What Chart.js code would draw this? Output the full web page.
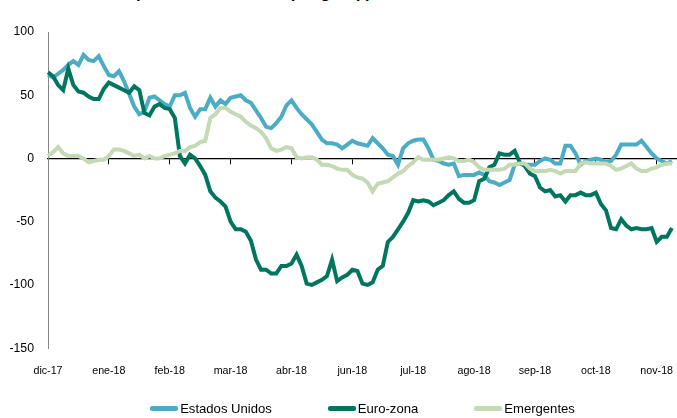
<!DOCTYPE html>
<html>
<head>
<meta charset="utf-8">
<title>Sorpresas económicas</title>
<script src="https://cdn.jsdelivr.net/npm/chart.js@4.4.1/dist/chart.umd.min.js"></script>
<style>
  html, body { margin: 0; padding: 0; background: #fff; overflow: hidden; }
  #wrap { position: relative; width: 677px; height: 418px; overflow: hidden; }
  #title {
    position: absolute; left: 30px; top: -16px; margin: 0;
    font: italic bold 16px 'Liberation Sans', Arial, sans-serif; color: #000;
    white-space: nowrap;
  }
  canvas { position: absolute; left: 0; top: 0; }
  #legend {
    position: absolute; left: 48px; width: 629px; top: 398px; height: 20px;
    display: flex; justify-content: center; align-items: center; gap: 56px;
    color: #000; white-space: nowrap;
  }
  #legend .item { display: flex; align-items: center; }
  #legend .sw { width: 28px; height: 5px; border-radius: 2px; margin-right: 2px; }
</style>
</head>
<body>
<div id="wrap">
  <p id="title">Índices de sorpresas económicas (Citigroup)</p>
  <canvas id="chart" width="677" height="418"></canvas>
  <div id="legend"></div>
</div>
<script>
  // month labels, one every 12 samples
  var monthLabels = ['dic-17', 'ene-18', 'feb-18', 'mar-18', 'abr-18', 'jun-18',
                     'jul-18', 'ago-18', 'sep-18', 'oct-18', 'nov-18'];
  var samplesPerMonth = 12;
  var nCategories = 125;

  var yTicks = [100, 50, 0, -50, -100, -150];

  var estadosUnidos = [
    66, 64, 67, 70, 74, 77, 74, 82, 78, 77, 81, 73, 66, 65, 69, 61, 51, 41, 35, 37,
    48, 49, 46, 43, 41, 50, 50, 52, 40, 33, 39, 39, 48, 41, 46, 43, 48, 49, 50, 46,
    44, 38, 32, 25, 24, 28, 33, 42, 46, 40, 35, 31, 27, 21, 15, 12, 12, 11, 8, 11,
    14, 12, 11, 10, 16, 12, 8, 3, 2, -5, 8, 12, 14, 15, 15, 8, -1, -2, -4, -5,
    -4, -14, -13, -13, -13, -11, -13, -18, -19, -21, -19, -17, -5, -4, -5, -5, -5, -2, 0, -1,
    -4, -4, 10, 10, 4, -5, -2, -1, 0, -1, -3, -2, 3, 11, 11, 11, 11, 14, 9, 4,
    0, -2, -4, -2
  ];

  var euroZona = [
    68, 65, 58, 54, 71, 58, 53, 52, 49, 47, 47, 55, 60, 58, 56, 54, 52, 57, 54, 36,
    34, 41, 43, 40, 39, 32, 2, -4, 3, 0, -6, -13, -26, -31, -34, -38, -50, -56, -56, -58,
    -65, -80, -88, -88, -91, -91, -85, -85, -83, -76, -85, -99, -100, -98, -96, -93, -80, -97, -94, -92,
    -88, -89, -99, -100, -98, -88, -85, -66, -62, -56, -50, -43, -33, -34, -33, -34, -37, -35, -33, -29,
    -26, -32, -35, -35, -33, -18, -16, -7, -5, 4, 3, 3, 6, -3, -6, -12, -14, -23, -26, -25,
    -30, -29, -34, -29, -29, -27, -29, -29, -27, -36, -41, -55, -56, -48, -53, -56, -55, -56, -56, -55,
    -66, -62, -62, -55
  ];

  var emergentes = [
    2, 5, 9, 4, 2, 2, 2, 0, -3, -2, -1, -1, 2, 7, 7, 6, 4, 2, 3, 0,
    2, 0, 0, 2, 3, 4, 6, 6, 9, 10, 13, 14, 32, 35, 40, 40, 37, 35, 33, 29,
    26, 24, 21, 16, 8, 6, 7, 9, 8, 1, 0, 1, 1, -1, -5, -5, -6, -8, -9, -9,
    -13, -15, -16, -19, -26, -20, -19, -18, -15, -12, -10, -6, -3, 1, -1, -1, -1, -1, 0, 1,
    0, -2, -2, -1, -3, -7, -9, -9, -9, -9, -8, -5, -5, -4, -4, -8, -10, -10, -10, -9,
    -10, -12, -10, -10, -10, -4, -3, -4, -4, -4, -4, -6, -9, -8, -6, -4, -8, -10, -10, -8,
    -7, -5, -4, -4
  ];

  var BLUE = '#4bacc6';
  var TEAL = '#00765f';
  var PALE = '#c4d9b4';

  // look for a condensed face (the original uses a narrow font), else shrink a normal one
  var probe = document.createElement('canvas').getContext('2d');
  function textWidth(font) {
    probe.font = font;
    return probe.measureText('Estados Unidos').width;
  }
  function pickFont() {
    var cands = [
      { weight: undefined, family: "'Liberation Sans Narrow'" },
      { weight: undefined, family: "'Arial Narrow'" },
      { weight: 'condensed', family: "'Liberation Sans'" },
      { weight: undefined, family: "'DejaVu Sans Condensed'" },
      { weight: 'condensed', family: "'DejaVu Sans'" }
    ];
    var fallback = { weight: undefined, family: "'Liberation Sans', Arial, sans-serif" };
    for (var i = 0; i < cands.length; i++) {
      var c = cands[i];
      var pre = c.weight ? c.weight + ' ' : '';
      var a = textWidth(pre + '16px ' + c.family + ', monospace');
      var b = textWidth(pre + '16px ' + c.family + ', serif');
      var base = textWidth("16px 'Liberation Sans'");
      if (Math.abs(a - b) < 0.5 && a < base - 6) { c.family += ', sans-serif'; return c; }
    }
    return fallback;
  }
  var face = pickFont();
  var k = 92 / textWidth((face.weight ? face.weight + ' ' : '') + '16px ' + face.family);
  function font(size) { return { family: face.family, weight: face.weight, size: Math.round(size * k * 10) / 10 }; }

  var categories = [];
  for (var i = 0; i < nCategories; i++) {
    categories.push(i % samplesPerMonth === 0 ? (monthLabels[i / samplesPerMonth] || '') : '');
  }

  function series(label, data, color, order) {
    return {
      label: label, data: data, borderColor: color, backgroundColor: color,
      borderWidth: 4, pointRadius: 0, tension: 0, order: order,
      xAxisID: 'x', yAxisID: 'y'
    };
  }

  var datasets = [
    series('Estados Unidos', estadosUnidos, BLUE, 3),
    series('Euro-zona', euroZona, TEAL, 2),
    series('Emergentes', emergentes, PALE, 1)
  ];

  new Chart(document.getElementById('chart'), {
    type: 'line',
    data: { labels: categories, datasets: datasets },
    options: {
      responsive: false,
      animation: false,
      devicePixelRatio: 1,
      layout: { padding: { top: 32, right: 0, bottom: 25, left: 0 } },
      plugins: {
        tooltip: { enabled: false },
        legend: { display: false }
      },
      scales: {
        x: {
          type: 'category',
          offset: false,
          grid: { display: false, drawTicks: false },
          border: { display: false },
          ticks: {
            autoSkip: false, maxRotation: 0, minRotation: 0, padding: 16,
            color: '#000', font: font(13)
          },
          afterFit: function (s) { s.paddingLeft = 0; s.paddingRight = 0; }
        },
        x0: {
          type: 'category',
          position: { y: 0 },
          offset: false,
          border: { display: true, color: '#000', width: 1.3 },
          grid: {
            drawOnChartArea: false, tickLength: 5, lineWidth: 1,
            tickColor: function (c) {
              return (c.index % samplesPerMonth === 0 && c.index > 0) ? '#000' : 'rgba(0,0,0,0)';
            }
          },
          ticks: { display: false, autoSkip: false },
          afterFit: function (s) { s.paddingLeft = 0; s.paddingRight = 0; }
        },
        y: {
          min: -150, max: 100,
          afterBuildTicks: function (s) {
            s.ticks = yTicks.map(function (v) { return { value: v }; });
          },
          afterFit: function (s) { s.width = 48; },
          grid: { display: false, drawTicks: false },
          border: { display: true, color: '#868686', width: 1 },
          ticks: { padding: 14, color: '#000', font: font(15) }
        }
      }
    }
  });

  // legend under the plot, same look as the original
  var lg = document.getElementById('legend');
  var lf = font(16);
  lg.style.font = (lf.weight ? lf.weight + ' ' : '') + lf.size + 'px ' + lf.family;
  datasets.forEach(function (d) {
    var item = document.createElement('span');
    item.className = 'item';
    var sw = document.createElement('span');
    sw.className = 'sw';
    sw.style.background = d.borderColor;
    item.appendChild(sw);
    item.appendChild(document.createTextNode(d.label));
    lg.appendChild(item);
  });
</script>
</body>
</html>
